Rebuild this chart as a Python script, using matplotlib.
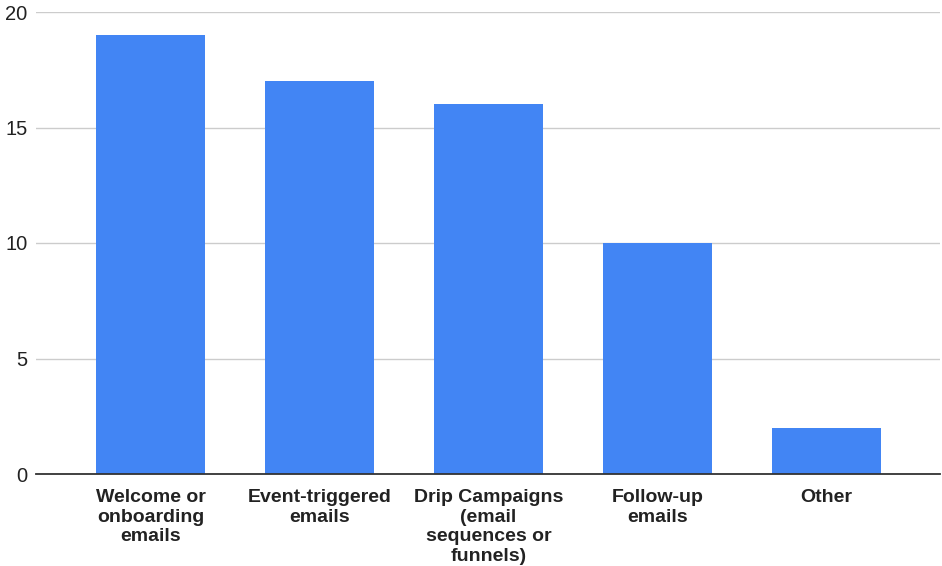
import matplotlib.pyplot as plt

categories = ["Welcome or\nonboarding\nemails", "Event-triggered\nemails",
              "Drip Campaigns\n(email\nsequences or\nfunnels)", "Follow-up\nemails", "Other"]
values = [19, 17, 16, 10, 2]
yticks = [0, 5, 10, 15, 20]

plt.rcParams['font.family'] = ['Liberation Sans', 'DejaVu Sans']

fig = plt.figure(figsize=(9.42, 5.66), dpi=100)
ax = fig.add_axes([36 / 942, 92 / 566, 904 / 942, 462 / 566])

ax.bar(range(len(values)), values, width=0.645, color='#4285f4', zorder=3)

ax.set_xlim(-0.677, len(values) - 1 + 0.67)
ax.set_ylim(0, 20)
ax.set_yticks(yticks)
ax.set_yticklabels([str(t) for t in yticks], fontsize=14.5, color='#222222')
ax.grid(axis='y', color='#cccccc', linewidth=1, zorder=0)
ax.tick_params(axis='y', length=0, pad=6)
ax.tick_params(axis='x', length=0, pad=11)
ax.set_xticks(range(len(values)))
ax.set_xticklabels(categories, fontsize=14, fontweight='bold', color='#222222',
                   linespacing=1.2)

for side in ['top', 'right', 'left']:
    ax.spines[side].set_visible(False)
ax.spines['bottom'].set_color('#333333')
ax.spines['bottom'].set_linewidth(1.3)
ax.spines['bottom'].set_zorder(4)

fig.savefig('out.png', dpi=100)
